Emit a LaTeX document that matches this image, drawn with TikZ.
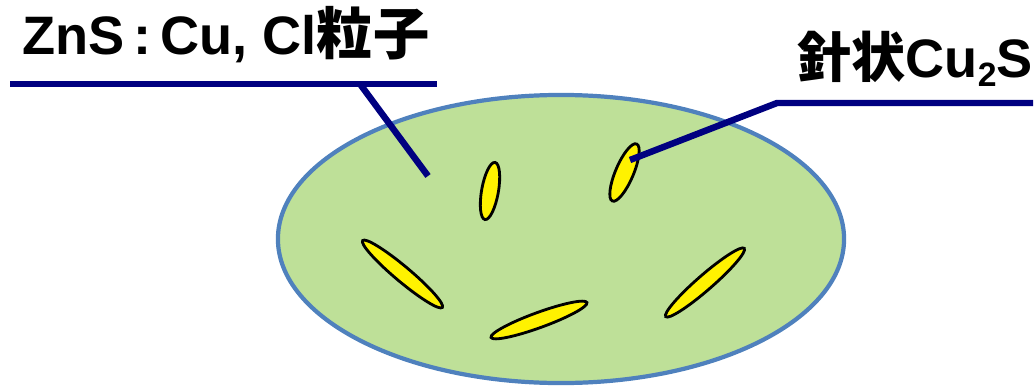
\documentclass[tikz,border=0pt]{standalone}
\usepackage{fontspec}
\setmainfont{Liberation Sans}
\newfontfamily\jp{Noto Sans CJK JP Bold}
\usetikzlibrary{shapes.geometric}

\definecolor{grainfill}{RGB}{190,224,152}
\definecolor{grainedge}{RGB}{79,129,189}
\definecolor{leadblue}{RGB}{0,0,128}

\tikzset{
  grain/.style={ellipse, draw=grainedge, fill=grainfill, line width=3pt, inner sep=0pt},
  needle/.style={ellipse, draw=black, fill=yellow, line width=2pt, inner sep=0pt},
  lead/.style={draw=leadblue, line width=4.6pt},
  lbl/.style={inner sep=0pt, font=\fontsize{38.5}{44}\selectfont\bfseries}
}

\begin{document}
\begin{tikzpicture}[x=0.025cm, y=-0.025cm]
   \useasboundingbox (0,0) rectangle (1036,387);

   % the ZnS particle
   \node [grain, minimum width=14.15cm, minimum height=7.2cm] (zns) at (561,239) {};

   % Cu2S needles inside
   \node [needle, minimum width=1.45cm, minimum height=0.42cm, rotate=80] (n1) at (490,191) {};
   \node [needle, minimum width=1.55cm, minimum height=0.45cm, rotate=67] (n2) at (624.5,172.5) {};
   \node [needle, minimum width=2.6cm, minimum height=0.38cm, rotate=-40] (n3) at (402.5,274) {};
   \node [needle, minimum width=2.55cm, minimum height=0.38cm, rotate=20] (n4) at (539,320) {};
   \node [needle, minimum width=2.6cm, minimum height=0.38cm, rotate=41] (n5) at (705,282.5) {};

   % labels
   \node [lbl, anchor=base west] (lblzns) at (22,55) {ZnS\,:\,Cu, Cl{\jp\fontsize{40}{44}\selectfont 粒子}};
   \node [lbl, anchor=base east] (lblcus) at (1033,78)
      {{\jp 針状}Cu\raisebox{-6.4pt}{\fontsize{24}{24}\selectfont 2}S};

   % leader lines
   \coordinate (zl) at (10,84);
   \coordinate (zr) at (437,84);
   \coordinate (zk) at (360,84);
   \coordinate (zt) at (428,176);
   \coordinate (ck) at (777,103);
   \coordinate (cr) at (1033,103);
   \coordinate (ct) at (630,160);
   \draw [lead] (zl) -- (zr);
   \draw [lead] (zk) -- (zt);
   \draw [lead, line join=round] (ct) -- (ck) -- (cr);
\end{tikzpicture}
\end{document}
